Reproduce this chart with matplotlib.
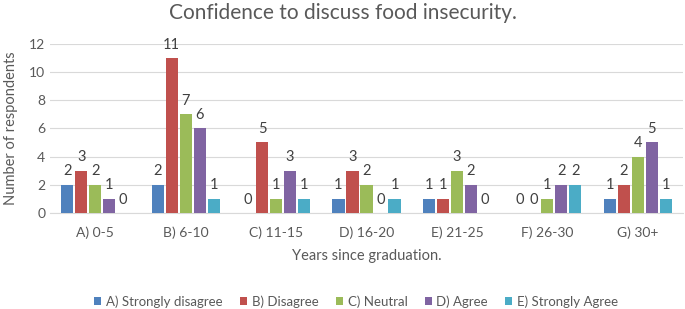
import matplotlib
matplotlib.use("Agg")
import matplotlib.pyplot as plt
import numpy as np

plt.rcParams['font.family'] = ['Lato', 'DejaVu Sans']

categories = ["A) 0-5", "B) 6-10", "C) 11-15", "D) 16-20", "E) 21-25", "F) 26-30", "G) 30+"]
series_names = ["A) Strongly disagree", "B) Disagree", "C) Neutral", "D) Agree", "E) Strongly Agree"]
strongly_disagree = [2, 2, 0, 1, 1, 0, 1]
disagree = [3, 11, 5, 3, 1, 0, 2]
neutral = [2, 7, 1, 2, 3, 1, 4]
agree = [1, 6, 3, 0, 2, 2, 5]
strongly_agree = [0, 1, 1, 1, 0, 2, 1]
series = [strongly_disagree, disagree, neutral, agree, strongly_agree]
colors = ["#4F81BD", "#C0504D", "#9BBB59", "#8064A2", "#4BACC6"]

fig = plt.figure(figsize=(6.85, 3.09), dpi=100)
ax = fig.add_axes([0.073, 0.311, 0.924, 0.547])

x = np.arange(len(categories))
step = 0.155
width = 0.135
text_color = "#595959"
for i, (vals, name, c) in enumerate(zip(series, series_names, colors)):
    pos = x + (i - 2) * step
    ax.bar(pos, vals, width=width, color=c, label=name, zorder=3)
    for p, v in zip(pos, vals):
        ax.text(p, v + 0.95, str(v), ha='center', va='center', fontsize=10.5, color="#404040")

ax.set_xlim(-0.5, 6.5)
ax.set_ylim(0, 12)
ax.set_yticks(range(0, 13, 2))
ax.set_xticks(x)
ax.set_xticklabels(categories)
ax.tick_params(axis='both', length=0, labelsize=10, colors=text_color)
ax.tick_params(axis='x', pad=10)
ax.grid(axis='y', color="#D9D9D9", linewidth=0.8, zorder=0)
for s in ['top', 'right', 'left']:
    ax.spines[s].set_visible(False)
ax.spines['bottom'].set_color("#D9D9D9")

ax.set_ylabel("Number of respondents", fontsize=10.5, color=text_color, labelpad=8)
ax.set_xlabel("Years since graduation.", fontsize=10.5, color=text_color, labelpad=7)
fig.suptitle("Confidence to discuss food insecurity.", fontsize=15, color=text_color, y=0.99)

leg = fig.legend(loc='lower center', bbox_to_anchor=(0.52, -0.035), ncol=5, frameon=False,
                 fontsize=9.5, handlelength=0.55, handleheight=0.55, handletextpad=0.35, columnspacing=1.3)
for t in leg.get_texts():
    t.set_color(text_color)

fig.savefig("out.png", dpi=100)
